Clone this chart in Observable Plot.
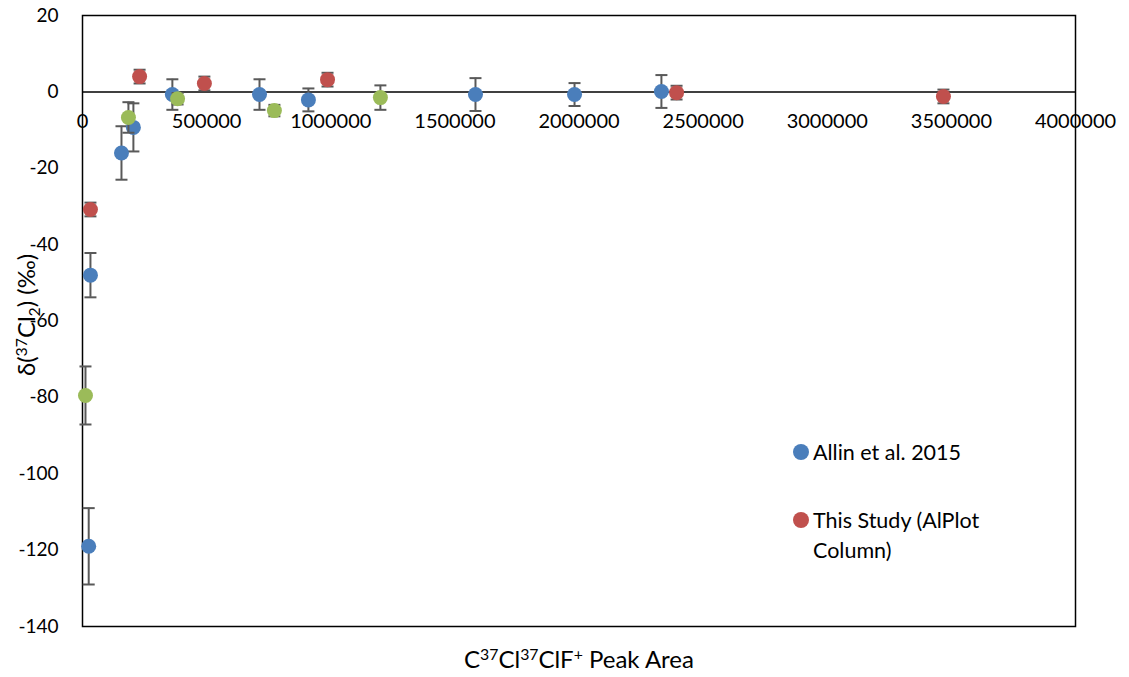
<!DOCTYPE html>
<html>
<head>
<meta charset="utf-8">
<script src="https://cdn.jsdelivr.net/npm/d3@7"></script>
<script src="https://cdn.jsdelivr.net/npm/@observablehq/plot@0.6"></script>
<style>
  html, body { margin: 0; padding: 0; background: #fff; }
  #wrap { position: relative; width: 1129px; height: 677px; font-family: Lato, "Open Sans", sans-serif; }
  .legend { position: absolute; left: 793px; font-size: 21.5px; line-height: 30px; color: #000; }
  .legend .sw { position: absolute; left: 0; top: 7px; width: 16px; height: 16px; border-radius: 50%; }
  .legend .lab { margin-left: 20px; }
</style>
</head>
<body>
<div id="wrap"></div>
<script>
// Allin et al. 2015: peak area, δ37Cl2 (‰) and ± uncertainty
const allinArea  = [25000, 32000, 157000, 205000, 362000, 713000, 910000, 1583000, 1982000, 2332000];
const allinDelta = [-119, -48, -16, -9.3, -0.7, -0.7, -2.1, -0.7, -0.7, 0.1];
const allinErr   = [10, 5.8, 7, 6.3, 4, 4, 3, 4.3, 3, 4.3];

// This study (AlPlot column)
const studyArea  = [32000, 230000, 491000, 987000, 2393000, 3468000];
const studyDelta = [-30.8, 4.0, 2.2, 3.2, -0.2, -1.2];
const studyErr   = [1.8, 1.8, 1.8, 1.8, 1.8, 1.8];

// Additional series plotted without a legend entry
const otherArea  = [12000, 185000, 383000, 773000, 1200000];
const otherDelta = [-79.5, -6.7, -1.8, -4.9, -1.5];
const otherErr   = [7.6, 4, 1.5, 1.5, 3.2];

const seriesNames  = ["Allin et al. 2015", "This Study (AlPlot Column)", "other"];
const seriesColors = ["#4A7EBB", "#C0504D", "#9BBB59"];

const xTicks = [0, 500000, 1000000, 1500000, 2000000, 2500000, 3000000, 3500000, 4000000];
const yTicks = [20, 0, -20, -40, -60, -80, -100, -120, -140];

const yTitle = "δ(³⁷Cl₂) (‰)";
const xTitle = "C³⁷Cl³⁷ClF⁺ Peak Area";

const table = (area, delta, err, s) =>
  area.map((a, i) => ({ area: a, delta: delta[i], err: err[i], series: s }));

const allin = table(allinArea, allinDelta, allinErr, seriesNames[0]);
const study = table(studyArea, studyDelta, studyErr, seriesNames[1]);
const other = table(otherArea, otherDelta, otherErr, seriesNames[2]);

// horizontal cap drawn at each end of an error bar
const cap = { draw(ctx) { ctx.moveTo(-6, 0); ctx.lineTo(6, 0); } };
const errColor = "#595959";

function seriesMarks(rows, color) {
  return [
    Plot.ruleX(rows, { x: "area", y1: d => d.delta - d.err, y2: d => d.delta + d.err, stroke: errColor, strokeWidth: 2 }),
    Plot.dot(rows, { x: "area", y: d => d.delta + d.err, symbol: cap, stroke: errColor, strokeWidth: 2, fill: "none" }),
    Plot.dot(rows, { x: "area", y: d => d.delta - d.err, symbol: cap, stroke: errColor, strokeWidth: 2, fill: "none" }),
    Plot.dot(rows, { x: "area", y: "delta", r: 7.5, fill: color, stroke: "none" })
  ];
}

const chart = Plot.plot({
  width: 1129,
  height: 677,
  marginLeft: 82,
  marginRight: 54,
  marginTop: 15,
  marginBottom: 51,
  style: { fontFamily: "Lato, 'Open Sans', sans-serif", fontSize: "19px", color: "#000", background: "#fff" },
  x: { domain: [0, 4000000], axis: null },
  y: { domain: [-140, 20], ticks: yTicks, tickSize: 0, tickPadding: 24, label: null, tickFormat: d => String(d) },
  marks: [
    Plot.frame({ stroke: "#000", strokeWidth: 1.5 }),
    Plot.ruleY([0], { stroke: "#000", strokeWidth: 1.5 }),
    Plot.text(xTicks, { x: d => d, y: 0, dy: 30, text: d => String(d), fontSize: 20, lineAnchor: "middle" }),
    ...seriesMarks(allin, seriesColors[0]),
    ...seriesMarks(study, seriesColors[1]),
    ...seriesMarks(other, seriesColors[2]),
    Plot.text([yTitle], { frameAnchor: "left", dx: -55, dy: -6, rotate: -90, text: d => d, fontSize: 24, textAnchor: "middle", lineAnchor: "middle" }),
    Plot.text([xTitle], { frameAnchor: "bottom", dy: 34, text: d => d, fontSize: 24, textAnchor: "middle", lineAnchor: "middle" })
  ]
});

// Render unicode super/subscript characters as shifted, smaller tspans
const scriptMap = { "³": ["3", -1], "⁷": ["7", -1], "⁺": ["+", -1], "₂": ["2", 1] };
function richText(el, base) {
  const s = el.textContent;
  const parts = [];
  for (const ch of s) {
    const kind = scriptMap[ch] ? scriptMap[ch][1] : 0;
    const c = scriptMap[ch] ? scriptMap[ch][0] : ch;
    const last = parts[parts.length - 1];
    if (last && last.kind === kind) last.t += c; else parts.push({ t: c, kind });
  }
  el.textContent = "";
  let shift = 0;
  for (const p of parts) {
    const ts = document.createElementNS("http://www.w3.org/2000/svg", "tspan");
    const target = p.kind === -1 ? -base * 0.36 : p.kind === 1 ? base * 0.2 : 0;
    ts.setAttribute("dy", target - shift);
    shift = target;
    if (p.kind) ts.setAttribute("font-size", base * 0.66);
    ts.textContent = p.t;
    el.appendChild(ts);
  }
}
d3.select(chart).selectAll("text").each(function () {
  const t = this.textContent;
  if (t === xTitle) richText(this, 24);
  else if (t === yTitle) richText(this, 24);
});

const wrap = document.getElementById("wrap");
wrap.appendChild(chart);

// legend entries for the two named series
const legendRows = [
  { name: "Allin et al. 2015", color: seriesColors[0], top: 437 },
  { name: "This Study (AlPlot<br>Column)", color: seriesColors[1], top: 505 }
];
for (const r of legendRows) {
  const div = document.createElement("div");
  div.className = "legend";
  div.style.top = r.top + "px";
  div.innerHTML = `<span class="sw" style="background:${r.color}"></span><div class="lab">${r.name}</div>`;
  wrap.appendChild(div);
}
</script>
</body>
</html>
